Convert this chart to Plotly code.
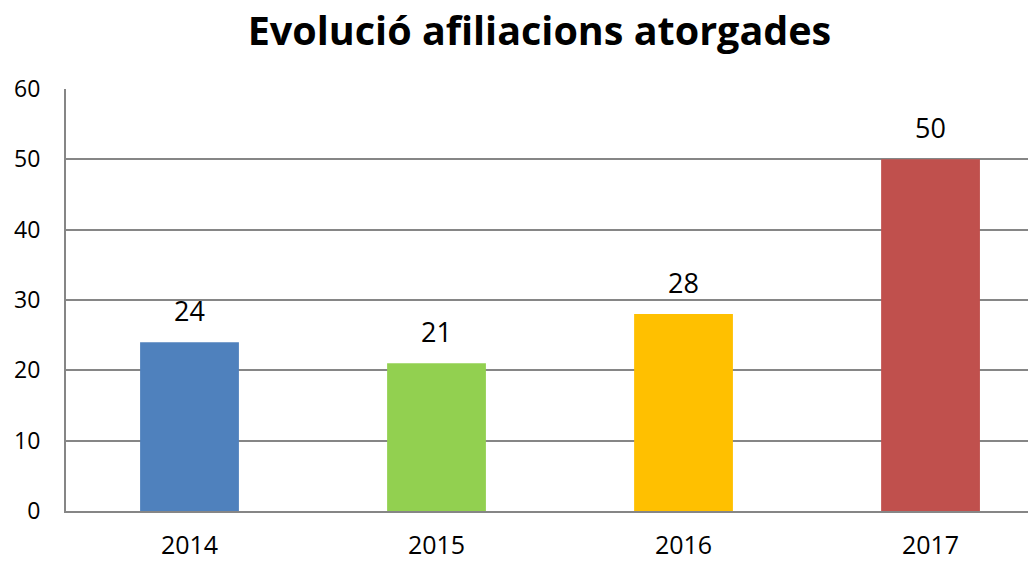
import plotly.graph_objects as go

categories = ["2014", "2015", "2016", "2017"]
values = [24, 21, 28, 50]
colors = ["#4F81BD", "#92D050", "#FFC000", "#C0504D"]
title = "Evolució afiliacions atorgades"

FONT = "Open Sans"
W, H = 1028, 553  # page body has an 8px default margin

fig = go.Figure()
fig.add_trace(go.Bar(x=list(range(len(categories))), y=values,
                     marker=dict(color=colors, line=dict(width=0)),
                     width=0.4, showlegend=False, hoverinfo="skip"))
for i, v in enumerate(values):
    fig.add_annotation(x=i, y=v, text=str(v), showarrow=False, yanchor="middle",
                       yshift=32, font=dict(size=27, color="#000000", family=FONT))

fig.update_layout(
    width=W, height=H,
    margin=dict(l=58, r=0, t=81, b=50, autoexpand=False),
    paper_bgcolor="white", plot_bgcolor="white",
    title=dict(text="<b>" + title + "</b>", x=531.5 / W, xanchor="center", y=1 - 23 / H,
               yanchor="middle", yref="container",
               font=dict(size=39.5, color="#000000", family=FONT)),
    font=dict(family=FONT, color="#000000"),
)
fig.update_xaxes(range=[-0.5, 3.427], showline=True, linecolor="#868686",
                 tickmode="array", tickvals=list(range(len(categories))), ticktext=categories,
                 linewidth=2, showgrid=False, zeroline=False, ticks="", tickfont=dict(size=25),
                 ticklabelstandoff=11, automargin=False)
fig.update_yaxes(range=[0, 60], dtick=10, showline=True, linecolor="#868686", linewidth=2,
                 showgrid=True, gridcolor="#868686", gridwidth=1.5, zeroline=False,
                 ticks="", tickfont=dict(size=23), ticklabelstandoff=19, automargin=False)
fig.write_html("out.html")
